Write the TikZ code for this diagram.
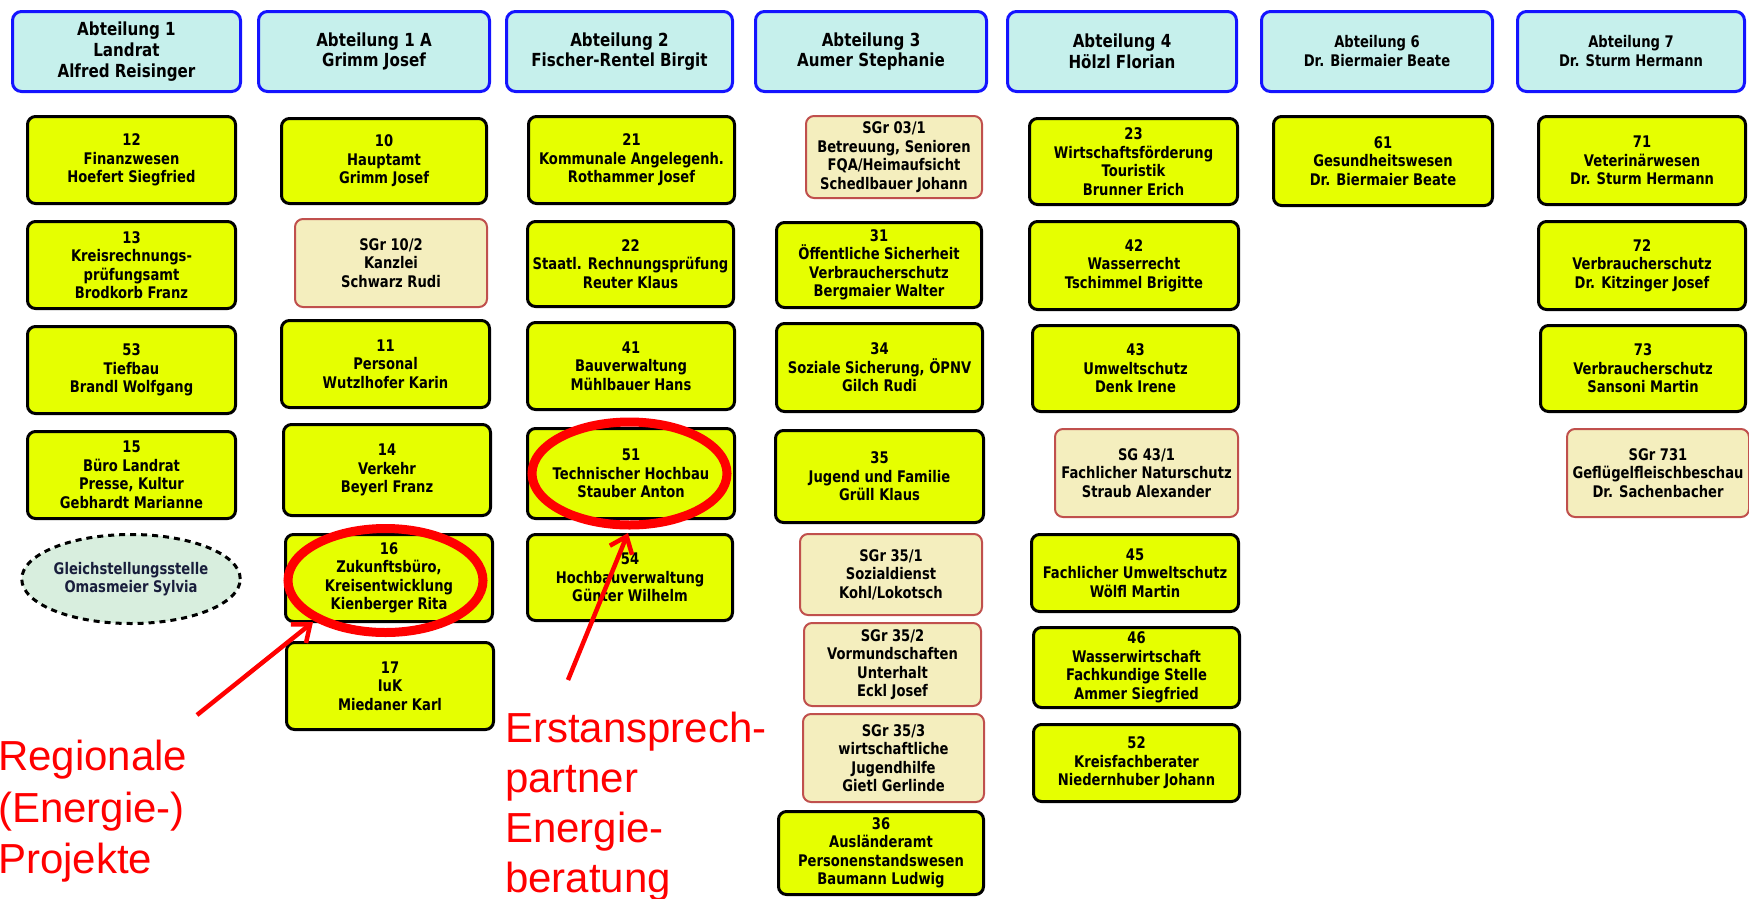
\documentclass[tikz,border=0pt]{standalone}
\usepackage{fontspec}
\usetikzlibrary{arrows.meta,shapes.geometric}
\newfontfamily\boxfont[FakeStretch=0.82]{DejaVu Sans}
\newfontfamily\hdrfont[FakeStretch=0.84]{DejaVu Sans}
\newfontfamily\redfont{Liberation Sans}
\definecolor{hdrfill}{RGB}{198,240,236}
\definecolor{hdrline}{RGB}{20,20,255}
\definecolor{yfill}{RGB}{230,255,0}
\definecolor{sgfill}{RGB}{244,238,190}
\definecolor{sgline}{RGB}{192,80,77}
\definecolor{elfill}{RGB}{216,238,222}
\definecolor{eltext}{RGB}{25,30,60}
\definecolor{redmark}{RGB}{255,0,0}
\begin{document}
\begin{tikzpicture}[x=1pt,y=-1pt,
  hdr/.style={draw=hdrline, line width=3pt, fill=hdrfill, rounded corners=9pt, align=center, inner sep=0pt, font=\hdrfont\bfseries\fontsize{18}{20.7}\selectfont},
  hdrs/.style={hdr, font=\boxfont\bfseries\fontsize{16}{19}\selectfont},
  ybox/.style={draw=black, line width=3pt, fill=yfill, rounded corners=8pt, align=center, inner sep=0pt, font=\boxfont\bfseries\fontsize{16}{18.5}\selectfont},
  sgbox/.style={draw=sgline, line width=2pt, fill=sgfill, rounded corners=8pt, align=center, inner sep=0pt, font=\boxfont\bfseries\fontsize{16}{18.5}\selectfont},
  gsbox/.style={ellipse, draw=black, line width=3pt, dash pattern=on 6pt off 5pt, fill=elfill, align=center, inner sep=0pt, text=eltext, font=\boxfont\bfseries\fontsize{16}{18.5}\selectfont},
  ring/.style={ellipse, draw=redmark, line width=9pt, inner sep=0pt},
  redarrow/.style={draw=redmark, line width=4.5pt, -{Straight Barb[length=15pt,width=24pt]}},
  redtext/.style={text=redmark, align=left, inner sep=0pt, anchor=north west}
]
\useasboundingbox (0,0) rectangle (1749,898);
% headers
\node[hdr, minimum width=228, minimum height=80] (h1) at (126.5,51.5) {Abteilung 1\\Landrat\\Alfred Reisinger};
\node[hdr, minimum width=231, minimum height=80] (h1a) at (374,51.5) {Abteilung 1 A\\Grimm Josef};
\node[hdr, minimum width=226, minimum height=80] (h2) at (619.5,51.5) {Abteilung 2\\Fischer-Rentel Birgit};
\node[hdr, minimum width=231, minimum height=80] (h3) at (871,51.5) {Abteilung 3\\Aumer Stephanie};
\node[hdr, minimum width=229, minimum height=80] (h4) at (1122,51.5) {Abteilung 4\\Hölzl Florian};
\node[hdrs, minimum width=231, minimum height=80] (h6) at (1377,51.5) {Abteilung 6\\Dr. Biermaier Beate};
\node[hdrs, minimum width=227, minimum height=80] (h7) at (1631,51.5) {Abteilung 7\\Dr. Sturm Hermann};
% column 1
\node[ybox, minimum width=208, minimum height=87] (b12) at (131.5,160) {12\\Finanzwesen\\Hoefert Siegfried};
\node[ybox, minimum width=208, minimum height=87] (b13) at (131.5,265) {13\\Kreisrechnungs-\\prüfungsamt\\Brodkorb Franz};
\node[ybox, minimum width=208, minimum height=87] (b53) at (131.5,370) {53\\Tiefbau\\Brandl Wolfgang};
\node[ybox, minimum width=208, minimum height=87] (b15) at (131.5,475) {15\\Büro Landrat\\Presse, Kultur\\Gebhardt Marianne};
\node[gsbox, minimum width=209, minimum height=89] (gs) at (131,579) {Gleichstellungsstelle\\Omasmeier Sylvia};
% column 1 A
\node[ybox, minimum width=205, minimum height=85] (b10) at (384,161) {10\\Hauptamt\\Grimm Josef};
\node[sgbox, minimum width=192, minimum height=88] (s102) at (391,263) {SGr 10/2\\Kanzlei\\Schwarz Rudi};
\node[ybox, minimum width=208, minimum height=87] (b11) at (385.5,364) {11\\Personal\\Wutzlhofer Karin};
\node[ybox, minimum width=207, minimum height=91] (b14) at (387,470) {14\\Verkehr\\Beyerl Franz};
\node[ybox, minimum width=207, minimum height=87] (b16) at (389,578) {16\\Zukunftsbüro,\\Kreisentwicklung\\Kienberger Rita};
\node[ybox, minimum width=207, minimum height=87] (b17) at (390,686) {17\\IuK\\Miedaner Karl};
% column 2
\node[ybox, minimum width=206, minimum height=87] (b21) at (631.5,160) {21\\Kommunale Angelegenh.\\Rothammer Josef};
\node[ybox, minimum width=206, minimum height=85] (b22) at (630.5,264) {22\\Staatl. Rechnungsprüfung\\Reuter Klaus};
\node[ybox, minimum width=207, minimum height=87] (b41) at (631,366) {41\\Bauverwaltung\\Mühlbauer Hans};
\node[ybox, minimum width=207, minimum height=90] (b51) at (631,473.5) {51\\Technischer Hochbau\\Stauber Anton};
\node[ybox, minimum width=205, minimum height=86] (b54) at (630,577.5) {54\\Hochbauverwaltung\\Günter Wilhelm};
% column 3
\node[sgbox, minimum width=176, minimum height=82] (s031) at (894,157) {SGr 03/1\\Betreuung, Senioren\\FQA/Heimaufsicht\\Schedlbauer Johann};
\node[ybox, minimum width=205, minimum height=85] (b31) at (879,265) {31\\Öffentliche Sicherheit\\Verbraucherschutz\\Bergmaier Walter};
\node[ybox, minimum width=206, minimum height=88] (b34) at (879.5,367.5) {34\\Soziale Sicherung, ÖPNV\\Gilch Rudi};
\node[ybox, minimum width=208, minimum height=92] (b35) at (879.5,476.5) {35\\Jugend und Familie\\Grüll Klaus};
\node[sgbox, minimum width=182, minimum height=81] (s351) at (891,574.5) {SGr 35/1\\Sozialdienst\\Kohl/Lokotsch};
\node[sgbox, minimum width=177, minimum height=83] (s352) at (892.5,664.5) {SGr 35/2\\Vormundschaften\\Unterhalt\\Eckl Josef};
\node[sgbox, minimum width=181, minimum height=88] (s353) at (893.5,758) {SGr 35/3\\wirtschaftliche\\Jugendhilfe\\Gietl Gerlinde};
\node[ybox, minimum width=205, minimum height=83] (b36) at (881,853) {36\\Ausländeramt\\Personenstandswesen\\Baumann Ludwig};
% column 4
\node[ybox, minimum width=208, minimum height=86] (b23) at (1133.5,161.5) {23\\Wirtschaftsförderung\\Touristik\\Brunner Erich};
\node[ybox, minimum width=209, minimum height=88] (b42) at (1134,265.5) {42\\Wasserrecht\\Tschimmel Brigitte};
\node[ybox, minimum width=206, minimum height=86] (b43) at (1135.5,368.5) {43\\Umweltschutz\\Denk Irene};
\node[sgbox, minimum width=183, minimum height=88] (s431) at (1146.5,473) {SG 43/1\\Fachlicher Naturschutz\\Straub Alexander};
\node[ybox, minimum width=207, minimum height=77] (b45) at (1135,573) {45\\Fachlicher Umweltschutz\\Wölfl Martin};
\node[ybox, minimum width=206, minimum height=80] (b46) at (1136.5,667.5) {46\\Wasserwirtschaft\\Fachkundige Stelle\\Ammer Siegfried};
\node[ybox, minimum width=206, minimum height=77] (b52) at (1136.5,763) {52\\Kreisfachberater\\Niedernhuber Johann};
% column 6
\node[ybox, minimum width=219, minimum height=89] (b61) at (1383,161) {61\\Gesundheitswesen\\Dr. Biermaier Beate};
% column 7
\node[ybox, minimum width=207, minimum height=88] (b71) at (1642,160.5) {71\\Veterinärwesen\\Dr. Sturm Hermann};
\node[ybox, minimum width=207, minimum height=88] (b72) at (1642,265.5) {72\\Verbraucherschutz\\Dr. Kitzinger Josef};
\node[ybox, minimum width=205, minimum height=86] (b73) at (1643,368.5) {73\\Verbraucherschutz\\Sansoni Martin};
\node[sgbox, minimum width=182, minimum height=88] (s731) at (1658,473) {SGr 731\\Geflügelfleischbeschau\\Dr. Sachenbacher};
% red marks
\node[ring, minimum width=195, minimum height=104] (r16) at (385.5,580.5) {};
\node[ring, minimum width=195, minimum height=103] (r51) at (629.5,473.5) {};
\node[redtext, font=\redfont\fontsize{42}{51.5}\selectfont] (t1) at (-2,740) {Regionale\\(Energie-)\\Projekte};
\node[redtext, font=\redfont\fontsize{42}{50}\selectfont] (t2) at (505,712) {Erstansprech-\\partner\\Energie-\\beratung};
\coordinate (a1s) at (197,715);
\coordinate (a1e) at (313,622);
\coordinate (a2s) at (568,680);
\coordinate (a2e) at (628,533);
\draw[redarrow] (a1s) -- (a1e);
\draw[redarrow] (a2s) -- (a2e);
\end{tikzpicture}
\end{document}
